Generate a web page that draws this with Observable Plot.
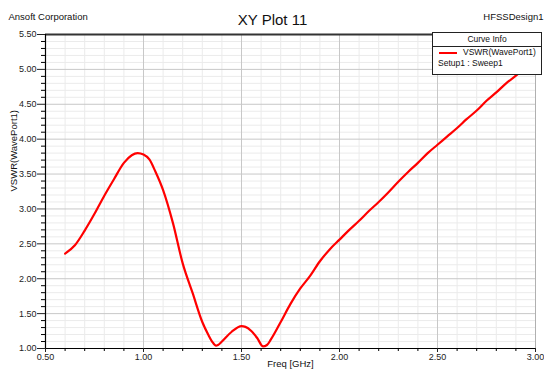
<!DOCTYPE html>
<html>
<head>
<meta charset="utf-8">
<script src="https://cdn.jsdelivr.net/npm/d3@7"></script>
<script src="https://cdn.jsdelivr.net/npm/@observablehq/plot@0.6"></script>
<style>
  html, body { margin: 0; padding: 0; background: #fff; }
  #wrap { position: relative; width: 544px; height: 370px; overflow: hidden; font-family: "Liberation Sans", Arial, sans-serif; }
  #legend { position: absolute; left: 432px; top: 32px; width: 108px; height: 41px; background: #fff; border: 1px solid #222; font-size: 8.5px; color: #111; }
  #legend .hdr { height: 13px; line-height: 13px; text-align: center; border-bottom: 1px solid #222; }
  #legend .row { position: relative; height: 11px; line-height: 11px; }
  #legend .swatch { position: absolute; left: 6px; top: 5px; width: 18px; height: 2px; background: #ff0000; }
  #legend .lab { position: absolute; left: 30px; }
  #legend .sub { position: absolute; left: 5px; }
</style>
</head>
<body>
<div id="wrap"></div>
<script>
// ---- data ----
const freq = [0.60, 0.65, 0.70, 0.75, 0.80, 0.85, 0.90, 0.94, 0.97, 1.00, 1.03, 1.06, 1.10, 1.15, 1.20, 1.25, 1.30, 1.33, 1.35, 1.37, 1.38, 1.40, 1.45, 1.50, 1.52, 1.55, 1.58, 1.61, 1.63, 1.65, 1.70, 1.75, 1.80, 1.85, 1.90, 1.95, 2.00, 2.05, 2.10, 2.15, 2.20, 2.25, 2.30, 2.35, 2.40, 2.45, 2.50, 2.55, 2.60, 2.65, 2.70, 2.75, 2.80, 2.85, 2.90, 2.95, 3.00];
const vswr = [2.36, 2.48, 2.69, 2.93, 3.19, 3.43, 3.66, 3.77, 3.80, 3.78, 3.71, 3.54, 3.27, 2.80, 2.22, 1.80, 1.38, 1.20, 1.10, 1.04, 1.05, 1.10, 1.24, 1.32, 1.31, 1.25, 1.15, 1.03, 1.05, 1.13, 1.38, 1.64, 1.86, 2.04, 2.25, 2.42, 2.56, 2.70, 2.83, 2.97, 3.10, 3.24, 3.39, 3.53, 3.66, 3.80, 3.92, 4.04, 4.16, 4.29, 4.41, 4.55, 4.67, 4.80, 4.91, 5.03, 5.15];

const xMajor = [0.5, 1.0, 1.5, 2.0, 2.5, 3.0];
const xMinor = [0.6, 0.7, 0.8, 0.9, 1.1, 1.2, 1.3, 1.4, 1.6, 1.7, 1.8, 1.9, 2.1, 2.2, 2.3, 2.4, 2.6, 2.7, 2.8, 2.9];
const yMajor = [1.0, 1.5, 2.0, 2.5, 3.0, 3.5, 4.0, 4.5, 5.0, 5.5];
const yMinor = [1.1, 1.2, 1.3, 1.4, 1.6, 1.7, 1.8, 1.9, 2.1, 2.2, 2.3, 2.4, 2.6, 2.7, 2.8, 2.9, 3.1, 3.2, 3.3, 3.4, 3.6, 3.7, 3.8, 3.9, 4.1, 4.2, 4.3, 4.4, 4.6, 4.7, 4.8, 4.9, 5.1, 5.2, 5.3, 5.4];

const title = "XY Plot 11";
const leftHeader = "Ansoft Corporation";
const rightHeader = "HFSSDesign1";
const xLabel = "Freq [GHz]";
const yLabel = "VSWR(WavePort1)";

const rows = freq.map((f, i) => ({f, v: vswr[i]}));
const fmt = d3.format(".2f");
const font = "'Liberation Sans', Arial, sans-serif";

const chart = Plot.plot({
  width: 544,
  height: 370,
  marginLeft: 45,
  marginRight: 9,
  marginTop: 34,
  marginBottom: 22,
  style: {fontFamily: font, background: "#fff", overflow: "visible"},
  x: {domain: [0.5, 3.0]},
  y: {domain: [1.0, 5.5]},
  marks: [
    Plot.ruleX(xMinor, {stroke: "#ebebeb", strokeWidth: 1}),
    Plot.ruleY(yMinor, {stroke: "#ebebeb", strokeWidth: 1}),
    Plot.ruleX(xMajor, {stroke: "#c8c8c8", strokeWidth: 1}),
    Plot.ruleY(yMajor, {stroke: "#c8c8c8", strokeWidth: 1}),
    Plot.ruleX([3.0], {stroke: "#b0b0b0", strokeWidth: 1}),
    Plot.line(rows, {x: "f", y: "v", stroke: "#ff0000", strokeWidth: 2.2, curve: "monotone-x"}),
    Plot.ruleY([5.5], {stroke: "#333", strokeWidth: 2}),
    Plot.ruleX([0.5], {stroke: "#000", strokeWidth: 1.2}),
    Plot.ruleY([1.0], {stroke: "#000", strokeWidth: 1.2}),
    Plot.axisX(xMajor, {tickSize: 4, tickPadding: 1, tickFormat: fmt, fontSize: 9, label: null, color: "#222"}),
    Plot.axisX(xMinor, {tickSize: 3, tickFormat: () => "", label: null}),
    Plot.axisY(yMajor, {tickSize: 8, tickPadding: 1, tickFormat: fmt, fontSize: 9, label: null, color: "#222"}),
    Plot.axisY(yMinor, {tickSize: 4, tickFormat: () => "", label: null}),
    Plot.text([title], {frameAnchor: "top", dx: -18, dy: -20, fontSize: 15, fill: "#111"}),
    Plot.text([leftHeader], {frameAnchor: "top-left", dx: -37, dy: -21, fontSize: 9.5, textAnchor: "start", fill: "#111"}),
    Plot.text([rightHeader], {frameAnchor: "top-right", dx: 8, dy: -21, fontSize: 9.5, textAnchor: "end", fill: "#111"}),
    Plot.text([xLabel], {frameAnchor: "bottom", dy: 15, fontSize: 9.5, lineAnchor: "middle", fill: "#111"}),
    Plot.text([yLabel], {frameAnchor: "left", dx: -32, dy: 0, rotate: -90, fontSize: 9.5, fill: "#111"})
  ]
});

const wrap = document.getElementById("wrap");
wrap.appendChild(chart);
const lg = document.createElement("div");
lg.id = "legend";
lg.innerHTML = '<div class="hdr">Curve Info</div>' +
  '<div class="row"><div class="swatch"></div><div class="lab">VSWR(WavePort1)</div></div>' +
  '<div class="row"><div class="sub">Setup1 : Sweep1</div></div>';
wrap.appendChild(lg);
</script>
</body>
</html>
